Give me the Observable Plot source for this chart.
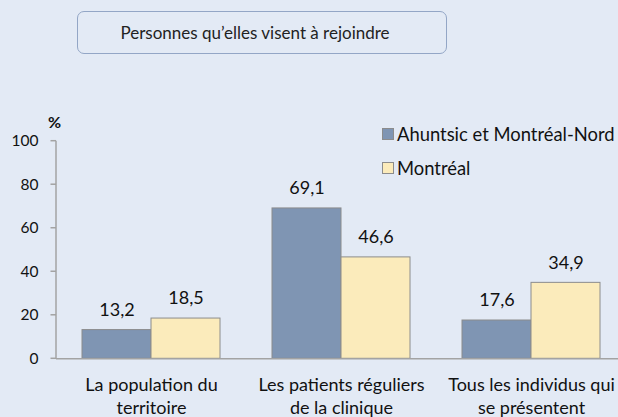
<!DOCTYPE html>
<html><head><meta charset="utf-8">
<script src="https://cdn.jsdelivr.net/npm/d3@7"></script>
<script src="https://cdn.jsdelivr.net/npm/@observablehq/plot@0.6"></script>
<style>
body{margin:0;background:#E3EAF5;font-family:Lato,sans-serif;}
#wrap{position:relative;width:618px;height:417px;overflow:hidden;background:#E3EAF5;}
#title{position:absolute;left:77px;top:11px;width:368px;height:41px;border:1.3px solid #93A6C6;border-radius:7px;display:flex;align-items:center;justify-content:center;font-size:17px;color:#222;box-sizing:content-box;}
#title span{margin-right:14px;}
#chart{position:absolute;left:0;top:100px;}
#legend{position:absolute;left:382px;top:117px;font-size:18.4px;color:#111;}
.item{display:flex;align-items:center;height:34px;}
.sw{width:12px;height:12px;border:1px solid #8C8C8C;margin-right:3px;box-sizing:border-box;}
</style></head>
<body>
<div id="wrap">
  <div id="title"><span></span></div>
  <div id="chart"></div>
  <div id="legend"></div>
</div>
<script>
const titleText = "Personnes qu’elles visent à rejoindre";
const categories = ["La population du territoire", "Les patients réguliers de la clinique", "Tous les individus qui se présentent"];
const categoryLabels = ["La population du\nterritoire", "Les patients réguliers\nde la clinique", "Tous les individus qui\nse présentent"];
const seriesNames = ["Ahuntsic et Montréal-Nord", "Montréal"];
const ahuntsicValues = [13.2, 69.1, 17.6];
const montrealValues = [18.5, 46.6, 34.9];
const yTicks = [0, 20, 40, 60, 80, 100];
const yLabel = "%";
const seriesColors = ["#7F95B3", "#FBEBBB"];

const rows = categories.flatMap((c, i) => [
  {cat: c, series: seriesNames[0], value: ahuntsicValues[i]},
  {cat: c, series: seriesNames[1], value: montrealValues[i]}
]);
const fmt = v => v.toFixed(1).replace(".", ",");

document.querySelector("#title span").textContent = titleText;
const legend = document.getElementById("legend");
seriesNames.forEach((s, i) => {
  const it = document.createElement("div"); it.className = "item";
  const sw = document.createElement("span"); sw.className = "sw"; sw.style.background = seriesColors[i];
  const tx = document.createElement("span"); tx.textContent = s;
  it.append(sw, tx); legend.append(it);
});

const axisColor = "#A3A3A3";
const firstFacet = () => categories[0];

const chart = Plot.plot({
  width: 618, height: 317,
  marginLeft: 56, marginRight: -8, marginTop: 40.7, marginBottom: 58.7,
  style: {background: "transparent", fontFamily: "Lato, sans-serif", overflow: "visible", color: "#111"},
  fx: {domain: categories, padding: 0, axis: null},
  x: {domain: seriesNames, paddingInner: 0, paddingOuter: 0.367, axis: null},
  y: {domain: [0, 100], axis: null},
  color: {domain: seriesNames, range: seriesColors},
  marks: [
    Plot.barY(rows, {fx: "cat", x: "series", y: "value", fill: "series", stroke: "#8C8C8C", strokeWidth: 1}),
    Plot.ruleY([0], {stroke: axisColor, strokeWidth: 1.5}),
    // y axis line + ticks (first facet only)
    Plot.ruleY(yTicks, {fx: firstFacet, y: d => d, render: (index, scales) => {
      const g = d3.create("svg:g").attr("stroke", axisColor).attr("stroke-width", 1.5);
      const x0 = scales.x.range()[0];
      const [ymin, ymax] = d3.extent(yTicks);
      g.append("line").attr("x1", x0).attr("x2", x0).attr("y1", scales.y(ymin)).attr("y2", scales.y(ymax));
      for (const i of index) g.append("line").attr("x1", x0 - 5.5).attr("x2", x0).attr("y1", scales.y(yTicks[i])).attr("y2", scales.y(yTicks[i]));
      return g.node();
    }}),
    Plot.text(yTicks, {fx: firstFacet, y: d => d, frameAnchor: "left", textAnchor: "end", dx: -18, fontSize: 15.5}),
    Plot.text([yLabel], {fx: firstFacet, frameAnchor: "top-left", textAnchor: "middle", lineAnchor: "middle", dx: -2, dy: -18, fontWeight: "bold", fontSize: 16}),
    Plot.text(rows, {fx: "cat", x: "series", y: "value", text: d => fmt(d.value), dy: -20, fontSize: 18}),
    Plot.text(categories, {fx: d => d, text: (d, i) => categoryLabels[i], frameAnchor: "bottom", lineAnchor: "middle", dy: 36, lineHeight: 1.3, fontSize: 18}),
    // category boundary ticks below the x axis
    Plot.text(categories, {fx: d => d, text: () => "", frameAnchor: "middle", render: (index, scales) => {
      const g = d3.create("svg:g");
      const x0 = scales.x.range()[0];
      const y0 = scales.y(0);
      for (const i of index) g.append("line").attr("x1", x0).attr("x2", x0).attr("y1", y0).attr("y2", y0 + 6).attr("stroke", axisColor).attr("stroke-width", 1.5);
      return g.node();
    }})
  ]
});
document.getElementById("chart").append(chart);
</script>
</body></html>
